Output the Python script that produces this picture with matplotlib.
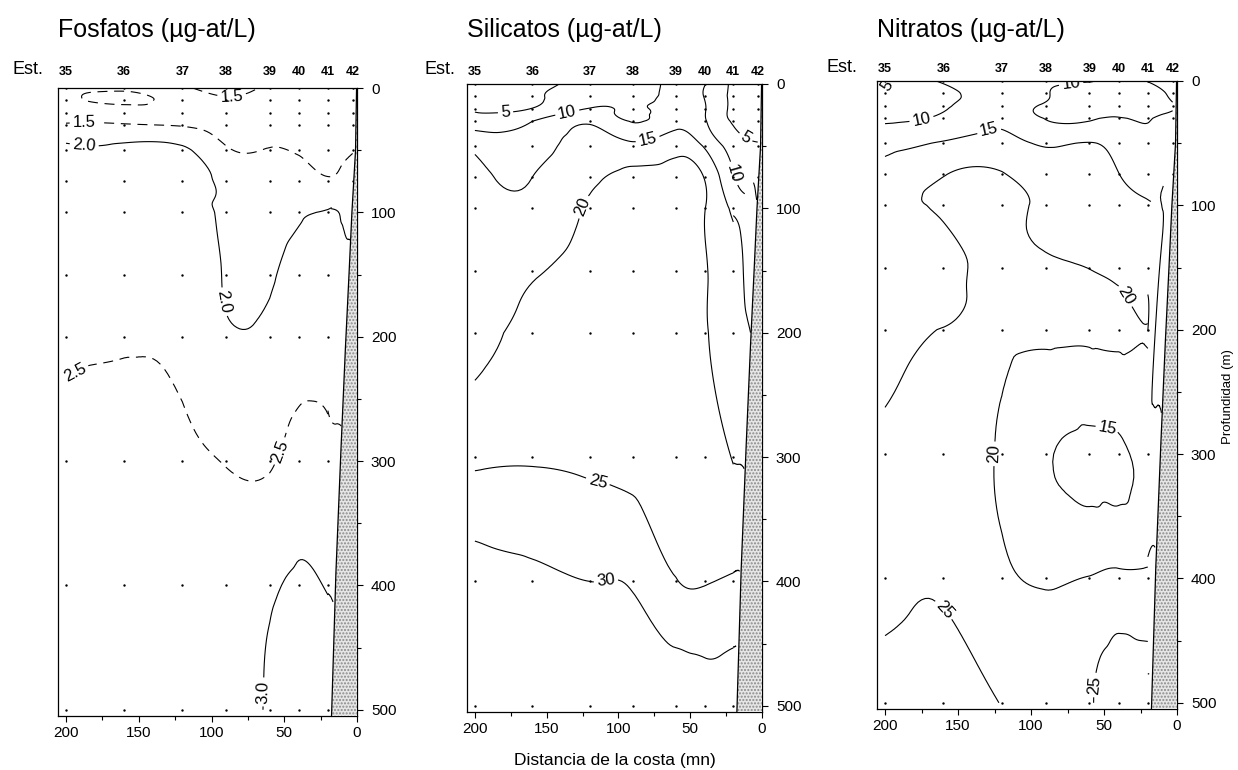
import numpy as np
import matplotlib.pyplot as plt
import matplotlib.tri as mtri
from matplotlib.ticker import MultipleLocator

plt.rcParams['font.family'] = ['Liberation Sans', 'DejaVu Sans']

estaciones = ['35', '36', '37', '38', '39', '40', '41', '42']
distancia = [200, 160, 120, 90, 60, 40, 20, 3]
profundidad = [0, 10, 20, 30, 50, 75, 100, 150, 200, 300, 400, 500]
nan = np.nan

# filas = profundidad, columnas = estaciones 35..42
fosfatos = [
    [1.40, 1.40, 1.45, 1.60, 1.45, 1.40, 1.40, 1.40],
    [1.40, 1.58, 1.40, 1.45, 1.40, 1.40, 1.40, 1.40],
    [1.38, 1.30, 1.40, 1.40, 1.40, 1.40, 1.40, 1.40],
    [1.58, 1.58, 1.48, 1.45, 1.40, 1.40, 1.40, 1.45],
    [2.10, 2.10, 2.10, 1.55, 1.52, 1.45, 1.40, 1.48],
    [2.10, 2.15, 2.15, 1.90, 1.75, 1.80, 1.55, 1.90],
    [2.15, 2.20, 2.20, 1.93, 1.85, 1.97, 2.05, nan],
    [2.30, 2.30, 2.30, 1.97, 1.95, 2.15, 2.20, nan],
    [2.40, 2.45, 2.40, 2.08, 2.10, 2.30, 2.38, nan],
    [2.70, 2.75, 2.60, 2.48, 2.45, 2.70, 2.62, nan],
    [2.85, 2.85, 2.75, 2.70, 2.92, 3.05, 2.98, nan],
    [2.90, 2.90, 2.85, 2.80, 3.05, 3.20, 3.20, nan],
]

silicatos = [
    [3.0, 3.5, 7.0, 9.0, 11.0, 10.2, 4.0, 3.0],
    [3.5, 4.0, 8.5, 9.0, 11.5, 9.8, 4.0, 3.0],
    [4.5, 5.2, 10.2, 9.5, 12.0, 10.3, 4.0, 3.0],
    [7.5, 10.0, 14.5, 9.8, 13.5, 10.5, 4.5, 3.5],
    [14.0, 13.0, 17.0, 16.5, 18.5, 14.5, 8.0, 5.5],
    [16.0, 15.0, 19.0, 21.0, 21.0, 19.8, 10.5, 9.0],
    [17.0, 16.5, 20.5, 22.0, 21.5, 20.1, 14.0, nan],
    [18.0, 19.5, 21.5, 22.5, 22.0, 20.3, 18.0, nan],
    [18.8, 21.0, 22.0, 23.0, 22.5, 20.3, 18.5, nan],
    [24.0, 24.5, 24.0, 23.5, 23.5, 22.0, 19.8, nan],
    [32.0, 31.0, 30.0, 29.5, 25.2, 24.8, 25.5, nan],
    [33.0, 33.0, 32.0, 32.0, 36.0, 35.0, 35.0, nan],
]

nitratos = [
    [4.5, 10.5, 11.0, 10.5, 10.05, 9.5, 10.1, 11.0],
    [6.0, 9.0, 11.5, 10.2, 9.5, 9.0, 9.0, 10.5],
    [8.0, 9.5, 12.0, 9.5, 9.0, 9.0, 9.2, 9.9],
    [9.0, 11.0, 14.0, 9.8, 9.5, 10.2, 9.9, 10.5],
    [14.0, 15.5, 16.5, 14.5, 15.2, 13.0, 11.0, 12.0],
    [16.5, 19.8, 20.3, 17.5, 18.0, 15.1, 13.5, 14.0],
    [19.9, 20.5, 21.0, 19.5, 19.0, 17.0, 15.3, nan],
    [19.0, 19.0, 21.0, 20.8, 19.9, 18.5, 17.5, nan],
    [19.0, 20.1, 20.8, 21.0, 21.0, 21.0, 20.1, nan],
    [21.0, 22.0, 19.5, 15.5, 14.0, 14.2, 16.0, nan],
    [24.0, 24.5, 21.0, 19.5, 20.2, 21.0, 21.0, nan],
    [26.0, 26.0, 24.8, 22.0, 24.5, 26.5, 26.0, nan],
]

# perfil del fondo (talud)
fondo_dist = [0.3, 1.0, 3.5, 5.5, 8.0, 11.0, 14.5, 17.5]
fondo_prof = [0, 50, 100, 150, 210, 290, 390, 505]

W, H = 1238, 770
fig = plt.figure(figsize=(W / 100, H / 100), dpi=100)

paneles = [
    dict(titulo='Fosfatos (µg-at/L)', datos=fosfatos, niveles=[1.5, 2.0, 2.5, 3.0],
         estilos=[(0, (9, 6)), 'solid', (0, (9, 6)), 'solid'], fmt='%.1f',
         caja=(58, 88, 357, 716), est=(28, 70), pad=7,
         etiquetas=[(1.5, 188, 27), (2.0, 188, 47), (1.5, 86, 7), (2.0, 92, 172),
                    (2.5, 192, 234), (2.5, 48, 295), (3.0, 58, 485)]),
    dict(titulo='Silicatos (µg-at/L)', datos=silicatos, niveles=[5, 10, 15, 20, 25, 30],
         estilos='solid', fmt='%d',
         caja=(467, 84, 762, 712), est=(440, 70), pad=4,
         etiquetas=[(5, 179, 21), (10, 136, 23), (15, 80, 42), (5, 12, 45), (10, 22, 73),
                    (20, 129, 97), (25, 115, 324), (30, 106, 418)]),
    dict(titulo='Nitratos (µg-at/L)', datos=nitratos, niveles=[5, 10, 15, 20, 25],
         estilos='solid', fmt='%d',
         caja=(877, 81, 1177, 709), est=(842, 67), pad=4,
         etiquetas=[(5, 197, 5), (10, 175, 31), (15, 129, 37), (10, 72, 11), (20, 39, 176),
                    (20, 129, 299), (15, 48, 283), (25, 169, 434), (25, 55, 484)]),
]

nx, nz = len(distancia), len(profundidad)
IX, IZ = np.meshgrid(np.arange(nx, dtype=float), np.arange(nz, dtype=float))
D, Z = np.meshgrid(np.array(distancia, dtype=float), np.array(profundidad, dtype=float))


def malla(ok):
    # triangles on the station/depth grid; 'abanico' fans from the last
    # sample of the shelf station down to the deep samples of station 41
    num = -np.ones(ok.shape, dtype=int)
    num[ok] = np.arange(ok.sum())
    tris = []
    for r in range(nz - 1):
        for c in range(nx - 1):
            a, b, cc, d = ok[r, c], ok[r, c + 1], ok[r + 1, c], ok[r + 1, c + 1]
            if a and b and cc and d:
                tris.append([num[r, c], num[r, c + 1], num[r + 1, c + 1]])
                tris.append([num[r, c], num[r + 1, c + 1], num[r + 1, c]])
            elif a and b and cc:
                tris.append([num[r, c], num[r, c + 1], num[r + 1, c]])
    abanico = []
    last = np.where(ok[:, nx - 1])[0].max()
    for r in range(last + 1, nz - 1):
        abanico.append([num[last, nx - 1], num[r, nx - 2], num[r + 1, nx - 2]])
    return np.array(tris), np.array(abanico)


for i, p in enumerate(paneles):
    l, t, r, b = p['caja']
    ax = fig.add_axes([l / W, 1 - b / H, (r - l) / W, (b - t) / H])
    ax.set_xlim(205.5, 0)
    ax.set_ylim(505, 0)

    v = np.array(p['datos'], dtype=float)
    ok = ~np.isnan(v)
    tris, abanico = malla(ok)

    # smooth field on the index grid, drawn at the real positions
    tri = mtri.Triangulation(IX[ok], IZ[ok], tris)
    tri_r, v_r = mtri.UniformTriRefiner(tri).refine_field(v[ok], subdiv=4)
    xr = np.interp(tri_r.x, np.arange(nx), distancia)
    zr = np.interp(tri_r.y, np.arange(nz), profundidad)
    tri_f = mtri.Triangulation(xr, zr, tri_r.triangles)
    cs = ax.tricontour(tri_f, v_r, levels=p['niveles'], colors='k',
                       linewidths=0.8, linestyles=p['estilos'], zorder=2)

    # slope wedge: smooth field in real coordinates, kept only inside the wedge
    tri_p = mtri.Triangulation(D[ok], Z[ok], np.vstack([tris, abanico]))
    tp_r, vp_r = mtri.UniformTriRefiner(tri_p).refine_field(v[ok], subdiv=4)
    cx = tp_r.x[tp_r.triangles].mean(axis=1)
    cy = tp_r.y[tp_r.triangles].mean(axis=1)
    finder = mtri.Triangulation(D[ok], Z[ok], abanico).get_trifinder()
    tp_r.set_mask(finder(cx, cy) < 0)
    ax.tricontour(tp_r, vp_r, levels=p['niveles'], colors='k',
                  linewidths=0.8, linestyles=p['estilos'], zorder=2)

    # put each label on the contour of its own level
    puntos = []
    for lev, x, y in p['etiquetas']:
        k = p['niveles'].index(lev)
        verts = cs.get_paths()[k].vertices
        if len(verts) == 0:
            continue
        scr = ax.transData.transform(verts)
        q = ax.transData.transform((x, y))
        j = np.argmin(((scr - q) ** 2).sum(axis=1))
        puntos.append(tuple(verts[j]))
    ax.clabel(cs, inline=True, fontsize=12, fmt=p['fmt'], inline_spacing=3,
              manual=puntos)

    ax.scatter(D[ok], Z[ok], s=3, color='k', zorder=3, linewidths=0)

    ax.fill_betweenx(fondo_prof, 0, fondo_dist, facecolor='#e6e6e6',
                     edgecolor='#8a8a8a', hatch='.....', linewidth=0, zorder=4)
    ax.plot(fondo_dist, fondo_prof, color='k', lw=0.9, zorder=5)

    ax.yaxis.tick_right()
    ax.set_yticks(range(0, 501, 100))
    ax.yaxis.set_minor_locator(MultipleLocator(50))
    ax.set_xticks([200, 150, 100, 50, 0])
    ax.xaxis.set_minor_locator(MultipleLocator(25))
    ax.tick_params(which='major', direction='out', length=4, width=0.8,
                   labelsize=11, pad=3)
    ax.tick_params(axis='y', which='major', pad=6)
    ax.tick_params(which='minor', direction='out', length=3, width=0.8)
    for s in ax.spines.values():
        s.set_linewidth(0.9)

    top = ax.secondary_xaxis('top')
    top.set_xticks(distancia, labels=estaciones)
    top.tick_params(length=0, labelsize=9, pad=p['pad'])
    for lab in top.get_xticklabels():
        lab.set_fontweight('bold')
    top.spines['top'].set_visible(False)

    fig.text(l / W, 1 - 30 / H, p['titulo'], fontsize=18, ha='left', va='center')
    fig.text(p['est'][0] / W, 1 - p['est'][1] / H, 'Est.', fontsize=13,
             ha='center', va='center')

fig.text(615 / W, 1 - 760 / H, 'Distancia de la costa (mn)', fontsize=12.5,
         ha='center', va='center')
fig.text(1228 / W, 1 - 397 / H, 'Profundidad (m)', fontsize=9.5, rotation=90,
         ha='center', va='center')

fig.savefig('out.png', dpi=100)
